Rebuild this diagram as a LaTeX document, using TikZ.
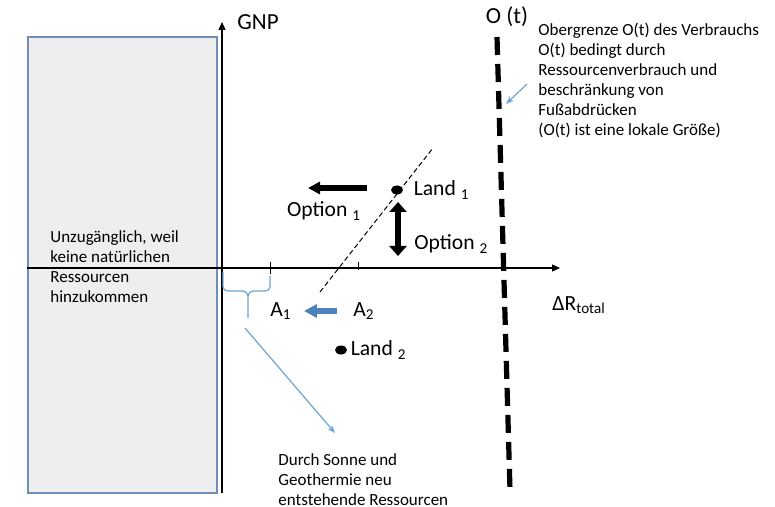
\documentclass[tikz,border=0pt]{standalone}
\usepackage{fontspec}
\setmainfont{Carlito}
\usepackage{tikz}
\usetikzlibrary{arrows.meta,positioning,shapes.geometric}

\definecolor{boxfill}{RGB}{238,238,238}
\definecolor{boxline}{RGB}{112,142,182}
\definecolor{lightblue}{RGB}{110,165,215}
\definecolor{steelblue}{RGB}{79,129,189}

\begin{document}
\begin{tikzpicture}[x=0.5pt, y=-0.5pt]
        \tikzset{lbl/.style={font=\fontsize{10.8}{13}\selectfont, inner sep=0pt}}
        \tikzset{note/.style={font=\fontsize{8.5}{10}\selectfont, align=left, inner sep=0pt, anchor=north west}}
        \tikzset{axis/.style={line width=0.6pt, -{Triangle[length=4pt, width=3.5pt]}}}
        \tikzset{dot/.style={ellipse, fill, minimum width=6pt, minimum height=4.5pt, inner sep=0pt}}
        \tikzset{bigarrow/.style={line width=2.6pt, -{Triangle[length=6pt, width=6pt]}}}
        \tikzset{thinblue/.style={lightblue, line width=0.6pt}}
        \useasboundingbox (0,0) rectangle (775,507);

        % Region without natural resources
        \node [draw=boxline, fill=boxfill, line width=0.8pt, minimum width=94.5pt, minimum height=228pt, inner sep=0pt, anchor=north west] (box) at (27,36) {};
        \node [note] (boxtext) at (50,230) {Unzugänglich, weil\\keine natürlichen\\Ressourcen\\hinzukommen};

        % Axes
        \coordinate (origin) at (222,268);
        \coordinate (xstart) at (27,268);
        \coordinate (xend) at (560,268);
        \coordinate (ystart) at (222,493);
        \coordinate (yend) at (222,22);
        \draw [axis] (xstart) -- (xend);
        \draw [axis] (ystart) -- (yend);
        \node [lbl, font=\fontsize{11.5}{13}\selectfont] (gnp) at (258,22) {GNP};
        \node [lbl, anchor=west] (dr) at (552,305) {ΔR\textsubscript{total}};

        % Ticks
        \coordinate (t1) at (270,268);
        \coordinate (t2) at (358,268);
        \draw [line width=0.5pt] ([yshift=-3pt]t1) -- ([yshift=3pt]t1);
        \draw [line width=0.5pt] ([yshift=-1pt]t2) -- ([yshift=3pt]t2);

        % Upper limit O(t)
        \coordinate (otop) at (497,37);
        \coordinate (obot) at (510,490);
        \draw [line width=2.6pt, dash pattern=on 9pt off 4.5pt] (otop) -- (obot);
        \node [lbl, font=\fontsize{11.5}{13}\selectfont] (ot) at (507,17) {O (t)};
        \node [note] (otext) at (538,23) {Obergrenze O(t) des Verbrauchs\\O(t) bedingt durch\\Ressourcenverbrauch und\\beschränkung von\\Fußabdrücken\\(O(t) ist eine lokale Größe)};
        \coordinate (ostart) at (527,84);
        \coordinate (oarr) at (506,104);
        \draw [thinblue, -{Stealth[length=4pt, width=3pt]}] (ostart) -- (oarr);

        % Thin dashed line
        \coordinate (dlow) at (320,292);
        \coordinate (dhigh) at (433,148);
        \draw [line width=0.5pt, dash pattern=on 2.5pt off 1.5pt] (dlow) -- (dhigh);

        % Land 1 and its options
        \node [dot] (land1) at (397,190) {};
        \node [lbl, right=5pt of land1] (l1) {Land \textsubscript{1}};
        \coordinate (o1s) at (367,188);
        \coordinate (o1e) at (308,188);
        \draw [bigarrow] (o1s) -- (o1e);
        \node [lbl] (opt1) at (324,211) {Option \textsubscript{1}};
        \coordinate (o2s) at (398,202);
        \coordinate (o2e) at (398,256);
        \draw [line width=3pt, {Triangle[length=5pt, width=8.5pt]}-{Triangle[length=5pt, width=8.5pt]}] (o2s) -- (o2e);
        \node [lbl, anchor=west] (opt2) at (414,244) {Option \textsubscript{2}};

        % A1, A2 and Land 2
        \node [lbl] (a1) at (281,311) {A\textsubscript{1}};
        \node [lbl] (a2) at (364,311) {A\textsubscript{2}};
        \draw [steelblue, line width=3pt, -{Triangle[length=6.5pt, width=6.5pt]}] ([xshift=-8pt]a2.west) -- ([xshift=6pt]a1.east);
        \node [dot] (land2) at (341,350) {};
        \node [lbl, right=1.5pt of land2] (l2) {Land \textsubscript{2}};

        % Brace for new resources
        \coordinate (btip) at (248,318);
        \draw [thinblue] (223,272) -- (223,287) to[out=-90,in=180] (228,291) -- (243,291) to[out=0,in=90] (248,296) -- (btip);
        \draw [thinblue] (270,276) -- (270,287) to[out=-90,in=0] (265,291) -- (253,291) to[out=180,in=90] (248,296);
        \coordinate (bstart) at (245,328);
        \coordinate (bend) at (335,433);
        \draw [thinblue, -{Stealth[length=4pt, width=3pt]}] (bstart) -- (bend);
        \node [note] (btext) at (278,453) {Durch Sonne und\\Geothermie neu\\entstehende Ressourcen};
    \end{tikzpicture}
\end{document}
